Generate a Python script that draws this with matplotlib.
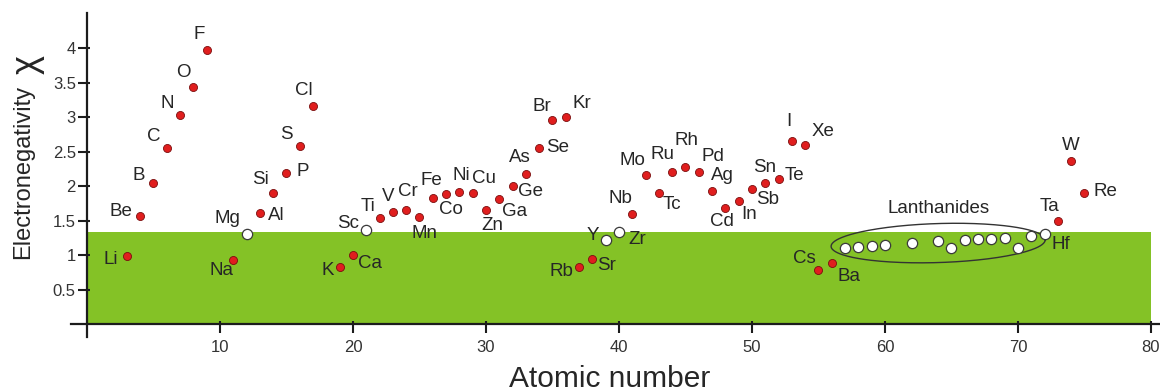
import matplotlib
matplotlib.use("Agg")
import matplotlib.pyplot as plt
import numpy as np
from matplotlib.patches import Rectangle
from matplotlib.ticker import FixedLocator, FuncFormatter

plt.rcParams['font.family'] = ['Liberation Sans', 'DejaVu Sans']

# Pauling electronegativity against atomic number
symbols = ['Li', 'Be', 'B', 'C', 'N', 'O', 'F',
           'Na', 'Mg', 'Al', 'Si', 'P', 'S', 'Cl',
           'K', 'Ca', 'Sc', 'Ti', 'V', 'Cr', 'Mn', 'Fe', 'Co', 'Ni', 'Cu', 'Zn',
           'Ga', 'Ge', 'As', 'Se', 'Br', 'Kr',
           'Rb', 'Sr', 'Y', 'Zr', 'Nb', 'Mo', 'Tc', 'Ru', 'Rh', 'Pd', 'Ag', 'Cd',
           'In', 'Sn', 'Sb', 'Te', 'I', 'Xe',
           'Cs', 'Ba', 'La', 'Ce', 'Pr', 'Nd', 'Sm', 'Gd', 'Tb', 'Dy', 'Ho',
           'Er', 'Tm', 'Yb', 'Lu', 'Hf', 'Ta', 'W', 'Re']
atomic_number = [3, 4, 5, 6, 7, 8, 9,
                 11, 12, 13, 14, 15, 16, 17,
                 19, 20, 21, 22, 23, 24, 25, 26, 27, 28, 29, 30,
                 31, 32, 33, 34, 35, 36,
                 37, 38, 39, 40, 41, 42, 43, 44, 45, 46, 47, 48,
                 49, 50, 51, 52, 53, 54,
                 55, 56, 57, 58, 59, 60, 62, 64, 65, 66, 67,
                 68, 69, 70, 71, 72, 73, 74, 75]
electronegativity = [0.98, 1.57, 2.04, 2.55, 3.04, 3.44, 3.98,
                     0.93, 1.31, 1.61, 1.90, 2.19, 2.58, 3.16,
                     0.82, 1.00, 1.36, 1.54, 1.63, 1.66, 1.55, 1.83, 1.88, 1.91, 1.90, 1.65,
                     1.81, 2.01, 2.18, 2.55, 2.96, 3.00,
                     0.82, 0.95, 1.22, 1.33, 1.60, 2.16, 1.90, 2.20, 2.28, 2.20, 1.93, 1.69,
                     1.78, 1.96, 2.05, 2.10, 2.66, 2.60,
                     0.79, 0.89, 1.10, 1.12, 1.13, 1.14, 1.17, 1.20, 1.10, 1.22, 1.23,
                     1.24, 1.25, 1.10, 1.27, 1.30, 1.50, 2.36, 1.90]
open_symbols = ['Mg', 'Sc', 'Y', 'Zr', 'La', 'Ce', 'Pr', 'Nd', 'Sm', 'Gd', 'Tb',
                'Dy', 'Ho', 'Er', 'Tm', 'Yb', 'Lu', 'Hf']
lanthanides = ['La', 'Ce', 'Pr', 'Nd', 'Sm', 'Gd', 'Tb', 'Dy', 'Ho', 'Er',
               'Tm', 'Yb', 'Lu']
band_level = 1.33
x_ticks = [10, 20, 30, 40, 50, 60, 70, 80]
y_ticks = [0.5, 1, 1.5, 2, 2.5, 3, 3.5, 4]

# label placement: offset of each label centre from its point, in pixels (right, up)
label_offsets = {
    'Li': (-16, -5), 'Be': (-19, 2), 'B': (-15, 6), 'C': (-13, 10), 'N': (-13, 9),
    'O': (-10, 12), 'F': (-7, 13), 'Na': (-12, -13), 'Mg': (-19, 13), 'Al': (16, -4),
    'Si': (-13, 12), 'P': (16, 0), 'S': (-13, 10), 'Cl': (-9, 14), 'K': (-12, -5),
    'Ca': (17, -10), 'Sc': (-18, 5), 'Ti': (-12, 9), 'V': (-5, 13), 'Cr': (2, 16),
    'Mn': (5, -18), 'Fe': (-1, 15), 'Co': (5, -17), 'Ni': (2, 15), 'Cu': (11, 13),
    'Zn': (6, -17), 'Ga': (15, -14), 'Ge': (18, -8), 'As': (-6, 14), 'Se': (18, -1),
    'Br': (-11, 12), 'Kr': (16, 12), 'Rb': (-18, -6), 'Sr': (14, -9), 'Y': (-13, 2),
    'Zr': (18, -9), 'Nb': (-12, 13), 'Mo': (-13, 13), 'Tc': (13, -13), 'Ru': (-10, 16),
    'Rh': (1, 24), 'Pd': (14, 14), 'Ag': (10, 14), 'Cd': (-3, -16), 'In': (10, -15),
    'Sn': (13, 19), 'Sb': (2, -19), 'Te': (16, 2), 'I': (-3, 17), 'Xe': (18, 11),
    'Cs': (-14, 9), 'Ba': (17, -16), 'Hf': (16, -12), 'Ta': (-8, 12), 'W': (0, 14),
    'Re': (21, 0),
}

W, H = 1160, 392
fig = plt.figure(figsize=(W / 100, H / 100), dpi=100)
ax = fig.add_axes([71 / W, 55 / H, 1089 / W, 324 / H])
ax.set_xlim(-1.2, 80.68)
ax.set_ylim(-0.189, 4.514)

text_color = '#262626'
axis_color = '#1c1c1c'

# green band
ax.add_patch(Rectangle((0, 0), 80, band_level, facecolor='#84C226',
                       edgecolor='none', zorder=1))

# spines crossing at the origin
for side in ('top', 'right'):
    ax.spines[side].set_visible(False)
for side in ('left', 'bottom'):
    ax.spines[side].set_position(('data', 0))
    ax.spines[side].set_linewidth(1.6)
    ax.spines[side].set_color(axis_color)
    ax.spines[side].set_zorder(3)

ax.xaxis.set_major_locator(FixedLocator(x_ticks))
ax.yaxis.set_major_locator(FixedLocator(y_ticks))
ax.xaxis.set_minor_locator(FixedLocator(x_ticks))
ax.yaxis.set_minor_locator(FixedLocator(y_ticks))
ax.xaxis.remove_overlapping_locs = False
ax.yaxis.remove_overlapping_locs = False
ax.yaxis.set_major_formatter(FuncFormatter(lambda v, p: f'{v:g}'))
ax.tick_params(which='major', direction='out', length=6.5, width=1.5,
               color=axis_color, labelsize=12, labelcolor='#333333')
ax.tick_params(which='minor', direction='in', length=2.5, width=1.5,
               color=axis_color, labelbottom=False, labelleft=False)
ax.tick_params(axis='x', which='major', pad=5)
ax.tick_params(axis='y', which='major', pad=1.5)

z = np.array(atomic_number, dtype=float)
chi = np.array(electronegativity, dtype=float)
is_open = np.array([s in open_symbols for s in symbols])

ax.scatter(z[~is_open], chi[~is_open], s=5.8 ** 2, facecolor='#E01E1E',
           edgecolor='#7A0E0E', linewidth=0.6, zorder=5)
ax.scatter(z[is_open], chi[is_open], s=7.4 ** 2, facecolor='white',
           edgecolor='#3a3a3a', linewidth=0.9, zorder=5)

for s, xv, yv in zip(symbols, z, chi):
    if s in label_offsets:
        dx, dy = label_offsets[s]
        ax.annotate(s, (xv, yv), xytext=(dx, dy + 2), textcoords='offset pixels',
                    ha='center', va='center', fontsize=13.5, color=text_color,
                    zorder=6)

# ellipse around the lanthanide group, drawn in screen space
lz = np.array([z[symbols.index(s)] for s in lanthanides])
lchi = np.array([chi[symbols.index(s)] for s in lanthanides])
cx, cy = (lz.min() + lz.max()) / 2, lchi.mean()
fig.canvas.draw()
to_disp = ax.transData
cpx = to_disp.transform((cx, cy))
half_w = (to_disp.transform((lz.max(), cy))[0] - to_disp.transform((lz.min(), cy))[0]) / 2 + 14
half_h = 19.5
theta = np.deg2rad(1.8)
t = np.linspace(0, 2 * np.pi, 300)
ex = half_w * np.cos(t) * np.cos(theta) - half_h * np.sin(t) * np.sin(theta)
ey = half_w * np.cos(t) * np.sin(theta) + half_h * np.sin(t) * np.cos(theta)
pts = to_disp.inverted().transform(np.column_stack([cpx[0] + ex, cpx[1] + ey]))
ax.plot(pts[:, 0], pts[:, 1], color='#333333', linewidth=1.0, zorder=4)
ax.annotate('Lanthanides', (cx, cy), xytext=(0, 35), textcoords='offset pixels',
            ha='center', va='center', fontsize=13.5, color=text_color, zorder=6)

# axis titles
fig.text(23 / W, 1 - 172 / H, 'Electronegativity', rotation=90, ha='center',
         va='center', fontsize=17, color=text_color)
fig.text(27 / W, 1 - 64 / H, 'χ', rotation=90, ha='center', va='center',
         fontsize=26, color=text_color)
fig.text(610 / W, 5 / H, 'Atomic number', ha='center', va='baseline',
         fontsize=21.5, color=text_color)

fig.savefig('out.png', dpi=100)
